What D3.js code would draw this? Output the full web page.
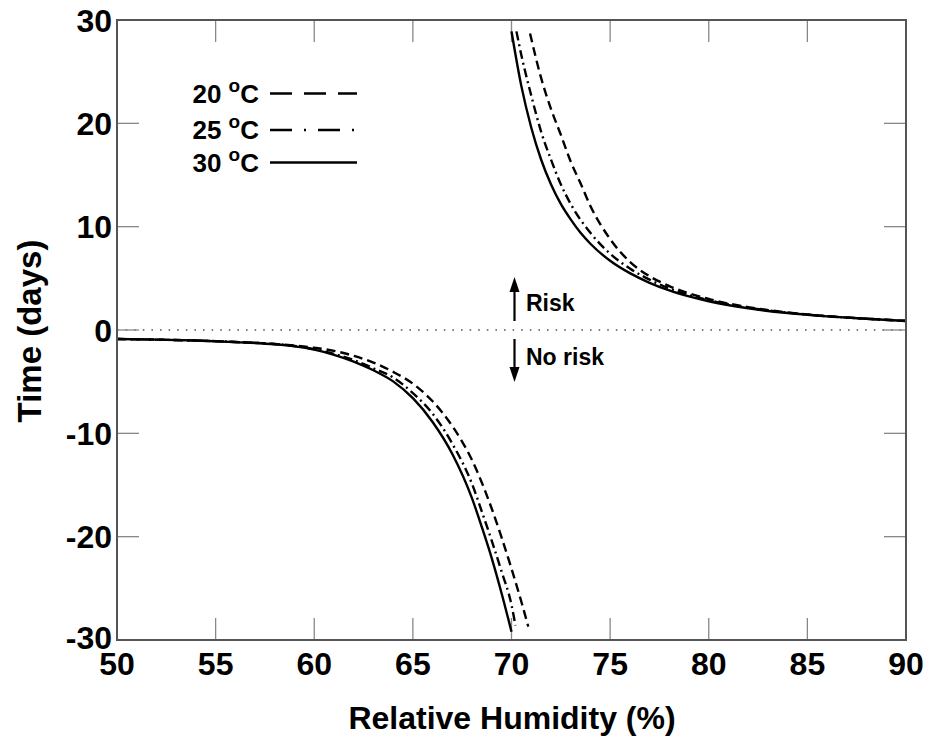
<!DOCTYPE html>
<html><head><meta charset="utf-8">
<script src="https://cdn.jsdelivr.net/npm/d3@7"></script>
<style>
html,body{margin:0;padding:0;background:#fff;}
text{font-family:"Liberation Sans",Arial,sans-serif;font-weight:bold;fill:#000;}
</style></head>
<body>
<svg id="chart" width="936" height="740"></svg>
<script>
// ---- data ----
const xTicks = [50,55,60,65,70,75,80,85,90];
const yTicks = [-30,-20,-10,0,10,20,30];
const seriesNames = ["20 °C","25 °C","30 °C"];

// 20 °C (dashed)
const rh20Upper = [70.94,71.5,72,72.5,73,73.5,74,75,76,77,78,80,82,84,86,88,90];
const t20Upper  = [28.7,24.4,21.4,18.9,16.3,14.2,12.0,8.8,6.6,5.2,4.25,3.0,2.21,1.70,1.34,1.09,0.90];
const rh20Lower = [50,52,54,56,58,60,61,62,63,64,65,66,67,68,69,69.5,70,70.5,70.85];
const t20Lower  = [-0.87,-0.93,-1.02,-1.16,-1.35,-1.72,-2.02,-2.5,-3.15,-4.05,-5.2,-6.9,-9.3,-12.6,-17.3,-20.1,-23.1,-26.3,-28.7];

// 25 °C (dash-dot)
const rh25Upper = [70.25,70.5,71,71.5,72,72.5,73,74,75,76,77,78,80,82,84,86,88,90];
const t25Upper  = [28.9,26.6,22.7,19.2,16.5,14.1,12.2,9.4,7.38,5.95,4.87,4.03,2.88,2.16,1.67,1.34,1.09,0.87];
const rh25Lower = [50,52,54,56,58,60,61,62,63,64,65,66,67,68,68.5,69,69.5,70,70.2];
const t25Lower  = [-0.87,-0.93,-1.02,-1.16,-1.36,-1.85,-2.32,-2.9,-3.7,-4.6,-6.1,-8.1,-11.0,-14.9,-17.6,-20.4,-23.4,-26.6,-28.6];

// 30 °C (solid)
const rh30Upper = [70.0,70.5,71,71.5,72,72.5,73,73.5,74,75,76,77,78,79,80,82,84,86,88,90];
const t30Upper  = [28.9,23.6,19.6,16.5,14.1,12.2,10.7,9.4,8.35,6.7,5.5,4.57,3.83,3.25,2.78,2.1,1.64,1.32,1.085,0.87];
const rh30Lower = [50,52,54,56,58,59,60,61,62,63,64,65,66,67,68,68.5,69,69.5,70.0];
const t30Lower  = [-0.87,-0.93,-1.02,-1.17,-1.38,-1.58,-1.9,-2.4,-3.05,-3.9,-4.97,-6.6,-8.9,-12.0,-16.3,-19.1,-22.1,-25.5,-29.2];

const styles = [
  {curveDash:"9,5", legendDash:"22,12"},
  {curveDash:"9,4,2,4", legendDash:"22,12,2,12"},
  {curveDash:null, legendDash:null}
];

// ---- layout ----
const svg = d3.select("#chart");
const L=117, R=906, T=20, B=640;
const x = d3.scaleLinear().domain([50,90]).range([L,R]);
const y = d3.scaleLinear().domain([-30,30]).range([B,T]);

svg.append("defs").append("clipPath").attr("id","clip")
  .append("rect").attr("x",L).attr("y",T).attr("width",R-L).attr("height",B-T);

// zero dotted line
svg.append("line").attr("x1",L).attr("x2",R).attr("y1",y(0)).attr("y2",y(0))
  .attr("stroke","#555").attr("stroke-width",1.6).attr("stroke-dasharray","1.6,7");

// ticks (inward, all sides)
const tickLen = 22, tickCol="#888";
const tg = svg.append("g");
xTicks.slice(1,-1).forEach(v=>{
  tg.append("line").attr("x1",x(v)).attr("x2",x(v)).attr("y1",B).attr("y2",B-tickLen).attr("stroke",tickCol).attr("stroke-width",1.3);
  tg.append("line").attr("x1",x(v)).attr("x2",x(v)).attr("y1",T).attr("y2",T+tickLen).attr("stroke",tickCol).attr("stroke-width",1.3);
});
yTicks.slice(1,-1).forEach(v=>{
  tg.append("line").attr("x1",L).attr("x2",L+tickLen).attr("y1",y(v)).attr("y2",y(v)).attr("stroke",tickCol).attr("stroke-width",1.3);
  tg.append("line").attr("x1",R).attr("x2",R-tickLen).attr("y1",y(v)).attr("y2",y(v)).attr("stroke",tickCol).attr("stroke-width",1.3);
});

// tick labels
xTicks.forEach(v=>{
  svg.append("text").attr("x",x(v)).attr("y",675).attr("text-anchor","middle")
    .attr("font-size",32).text(v);
});
yTicks.forEach(v=>{
  svg.append("text").attr("x",112).attr("y",Math.min(y(v)+11.5,649)).attr("text-anchor","end")
    .attr("font-size",32).text(v);
});

// axis titles
svg.append("text").attr("x",512).attr("y",729).attr("text-anchor","middle")
  .attr("font-size",32).text("Relative Humidity (%)");
svg.append("text").attr("transform","translate(41,331) rotate(-90)").attr("text-anchor","middle")
  .attr("font-size",33).text("Time (days)");

// curves
const line = d3.line().x(d=>x(d[0])).y(d=>y(d[1])).curve(d3.curveMonotoneX);
const cg = svg.append("g").attr("clip-path","url(#clip)");
const curves = [
  [rh20Upper,t20Upper,0],[rh20Lower,t20Lower,0],
  [rh25Upper,t25Upper,1],[rh25Lower,t25Lower,1],
  [rh30Upper,t30Upper,2],[rh30Lower,t30Lower,2]
];
curves.forEach(([xs,ys,i])=>{
  const p = cg.append("path").datum(d3.zip(xs,ys)).attr("d",line)
    .attr("fill","none").attr("stroke","#000").attr("stroke-width",2.4);
  if(styles[i].curveDash) p.attr("stroke-dasharray",styles[i].curveDash);
});

// frame
svg.append("rect").attr("x",L).attr("y",T).attr("width",R-L).attr("height",B-T)
  .attr("fill","none").attr("stroke","#555").attr("stroke-width",2);

// legend
const legY = [93.5,130,162.5];
seriesNames.forEach((n,i)=>{
  const parts = n.split(" °");
  const t = svg.append("text").attr("x",259).attr("y",legY[i]+9).attr("text-anchor","end").attr("font-size",26);
  t.append("tspan").text(parts[0]+" ");
  t.append("tspan").attr("font-size",19).attr("dy",-11).text("o");
  t.append("tspan").attr("dy",11).text(parts[1]);
  const l = svg.append("line").attr("x1",270).attr("x2",357).attr("y1",legY[i]).attr("y2",legY[i])
    .attr("stroke","#000").attr("stroke-width",2.4);
  if(styles[i].legendDash) l.attr("stroke-dasharray",styles[i].legendDash);
});

// Risk arrows
const ax = 514.5;
svg.append("line").attr("x1",ax).attr("x2",ax).attr("y1",321).attr("y2",290)
  .attr("stroke","#000").attr("stroke-width",2.2);
svg.append("path").attr("d",`M${ax},277 L${ax-5},292 L${ax+5},292 Z`).attr("fill","#000");
svg.append("line").attr("x1",ax).attr("x2",ax).attr("y1",339).attr("y2",369)
  .attr("stroke","#000").attr("stroke-width",2.2);
svg.append("path").attr("d",`M${ax},382 L${ax-5},367 L${ax+5},367 Z`).attr("fill","#000");
svg.append("text").attr("x",526).attr("y",311).attr("font-size",23).text("Risk");
svg.append("text").attr("x",526).attr("y",365).attr("font-size",23).text("No risk");
</script>
</body></html>
